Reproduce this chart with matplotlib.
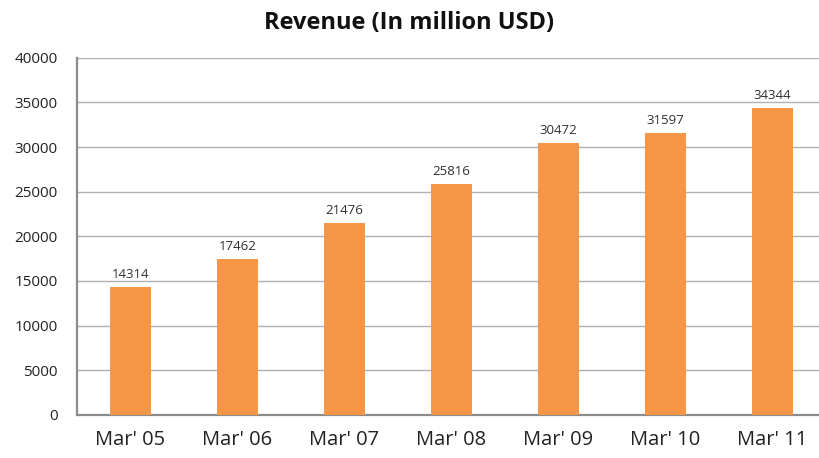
import matplotlib
matplotlib.use("Agg")
from matplotlib import pyplot as plt

years = ["Mar' 05", "Mar' 06", "Mar' 07", "Mar' 08", "Mar' 09", "Mar' 10", "Mar' 11"]
revenue = [14314, 17462, 21476, 25816, 30472, 31597, 34344]
y_ticks = [0, 5000, 10000, 15000, 20000, 25000, 30000, 35000, 40000]

plt.rcParams['font.family'] = ['Open Sans', 'DejaVu Sans']

fig = plt.figure(figsize=(8.19, 4.58), dpi=100)
ax = fig.add_axes([0.094, 0.094, 0.906, 0.78])

pos = list(range(len(years)))
ax.bar(pos, revenue, width=0.39, color="#F79646", zorder=3)
for x, v in zip(pos, revenue):
    ax.text(x, v + 700, str(v), ha="center", va="bottom", fontsize=9.5, color="#303030")

ax.set_xlim(-0.5, 6.435)
ax.set_ylim(0, 40000)
ax.set_yticks(y_ticks)
ax.set_yticklabels([str(t) for t in y_ticks], fontsize=11, color="#222222")
ax.set_xticks(pos)
ax.set_xticklabels(years, fontsize=14.5, color="#222222")
ax.tick_params(axis="both", length=0)
ax.tick_params(axis="y", pad=14)
ax.tick_params(axis="x", pad=11)
ax.grid(axis="y", color="#B0B0B0", linewidth=1.0, zorder=0)
for side in ["top", "right"]:
    ax.spines[side].set_visible(False)
for side in ["left", "bottom"]:
    ax.spines[side].set_color("#8C8C8C")
    ax.spines[side].set_linewidth(1.6)

fig.text(0.5, 0.95, "Revenue (In million USD)", ha="center", va="center",
         fontsize=17, fontweight="bold", color="#111111")

fig.savefig("out.png", dpi=100)
